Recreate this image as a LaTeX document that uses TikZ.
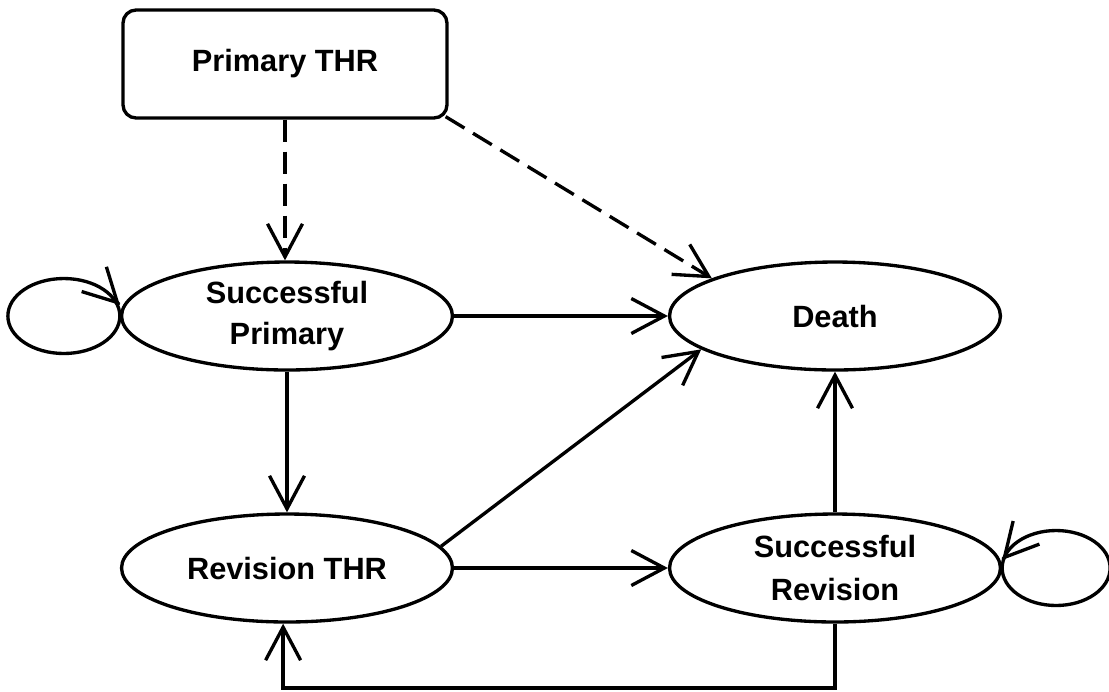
\documentclass[tikz,border=0pt]{standalone}
\usepackage{fontspec}
\setmainfont{Liberation Sans}
\usetikzlibrary{shapes.geometric,arrows.meta,calc}
\begin{document}
\begin{tikzpicture}[x=0.02cm,y=-0.02cm,
  lw/.style={line width=1.9pt},
  txt/.style={font=\bfseries\fontsize{17.5}{25}\selectfont, align=center},
  state/.style={ellipse, draw, lw, txt, minimum width=6.62cm, minimum height=2.16cm, inner sep=0pt},
  box/.style={rectangle, rounded corners=0.26cm, draw, lw, txt, minimum width=6.48cm, minimum height=2.16cm, inner sep=0pt},
  arr/.style={lw, -{Straight Barb[length=0.66cm,width=0.7cm]}},
  dashedline/.style={dash pattern=on 0.44cm off 0.2cm}]
\useasboundingbox (0,0) rectangle (1109,691);
\node[box] (pthr) at (285,64) {Primary THR};
\node[state, font=\bfseries\fontsize{17.5}{23}\selectfont] (sp) at (287,316) {Successful\\Primary};
\node[state] (death) at (835,316) {Death};
\node[state] (rt) at (287,568) {Revision THR};
\node[state] (sr) at (835,568) {Successful\\Revision};
% dashed connectors
\draw[arr, dashedline] (pthr.south) -- (pthr.south |- sp.north);
\draw[arr, dashedline] ($(pthr.south east)+(-3,-3)$) -- (death.163);
% solid connectors
\draw[arr] (sp) -- (death);
\draw[arr] (sp) -- (rt);
\draw[arr] (rt.8) -- (death.194);
\draw[arr] (rt) -- (sr);
\draw[arr] (sr) -- (death);
\coordinate (b1) at (835,688);
\draw[arr] (sr.south) -- (b1) -| (rt.266);
% self loops
\draw[lw] (sp.west) arc[start angle=0, end angle=360, x radius=1.12cm, y radius=0.75cm];
\draw[arr] ($(sp.west)+(-0.7,-11.7)$) -- ($(sp.west)+(0,-11)$);
\draw[lw] (sr.east) arc[start angle=180, end angle=-180, x radius=1.08cm, y radius=0.75cm];
\draw[arr] ($(sr.east)+(0.66,-8.75)$) -- ($(sr.east)+(0,-8)$);
\end{tikzpicture}
\end{document}
